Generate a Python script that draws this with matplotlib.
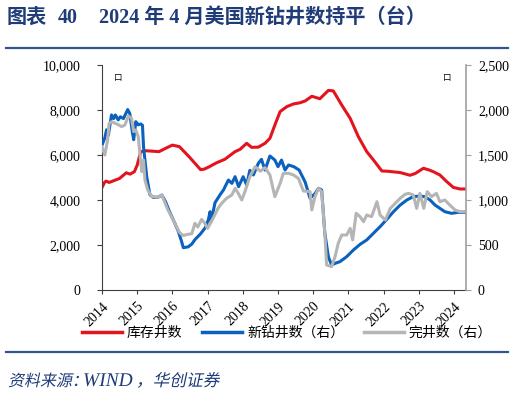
import matplotlib
matplotlib.use("Agg")
import matplotlib.pyplot as plt
import matplotlib.transforms as mtransforms
from matplotlib.font_manager import FontProperties
from matplotlib.lines import Line2D
from matplotlib.patches import PathPatch
from matplotlib.textpath import TextPath

plt.rcParams["font.family"] = ["Liberation Serif", "Noto Sans CJK SC", "DejaVu Sans"]

# 库存井数 (左轴)
duc_x = [2014.0, 2014.08, 2014.12, 2014.2, 2014.32, 2014.5, 2014.69, 2014.8, 2014.92, 2015.0,
         2015.1, 2015.24, 2015.62, 2015.85, 2016.0, 2016.2, 2016.47, 2016.8, 2016.9, 2017.05,
         2017.25, 2017.49, 2017.78, 2017.92, 2018.11, 2018.25, 2018.44, 2018.63, 2018.77, 2018.91,
         2019.06, 2019.25, 2019.44, 2019.62, 2019.77, 2019.96, 2020.19, 2020.43, 2020.57, 2020.81,
         2021.05, 2021.28, 2021.52, 2021.71, 2021.95, 2022.1, 2022.47, 2022.75, 2022.9, 2023.13,
         2023.3, 2023.41, 2023.6, 2023.79, 2023.98, 2024.17, 2024.31]
duc_y = [4560, 4800, 4840, 4780, 4850, 4960, 5210, 5150, 5260, 5550,
         6150, 6190, 6150, 6330, 6440, 6370, 5930, 5350, 5370, 5480,
         5650, 5810, 6150, 6250, 6520, 6340, 6350, 6520, 6740, 7330,
         7930, 8150, 8270, 8320, 8400, 8610, 8500, 8870, 8850, 8220,
         7630, 6820, 6150, 5780, 5290, 5280, 5220, 5100, 5180, 5410,
         5330, 5260, 5110, 4820, 4560, 4490, 4490]

# 新钻井数 (右轴)
drill_x = [2014.0, 2014.08, 2014.13, 2014.18, 2014.27, 2014.33, 2014.38, 2014.46, 2014.52, 2014.61,
           2014.73, 2014.79, 2014.86, 2014.9, 2014.96, 2015.03, 2015.1, 2015.15, 2015.18, 2015.27,
           2015.36, 2015.45, 2015.59, 2015.7, 2015.8, 2015.93, 2016.07, 2016.17, 2016.26, 2016.31,
           2016.45, 2016.55, 2016.64, 2016.79, 2016.93, 2017.02, 2017.07, 2017.1, 2017.21, 2017.35,
           2017.45, 2017.59, 2017.69, 2017.78, 2017.88, 2018.01, 2018.11, 2018.2, 2018.3, 2018.44,
           2018.53, 2018.63, 2018.77, 2018.91, 2019.0, 2019.1, 2019.2, 2019.3, 2019.45, 2019.6,
           2019.77, 2019.91, 2020.05, 2020.15, 2020.24, 2020.33, 2020.43, 2020.52, 2020.62, 2020.76,
           2020.95, 2021.14, 2021.33, 2021.52, 2021.71, 2021.9, 2022.09, 2022.28, 2022.47, 2022.66,
           2022.84, 2023.03, 2023.17, 2023.32, 2023.46, 2023.6, 2023.74, 2023.93, 2024.12, 2024.31]
drill_y = [1610, 1690, 1780, 1720, 1945, 1905, 1945, 1890, 1925, 1905,
           2005, 1960, 1760, 1670, 1870, 1835, 1845, 1830, 1590, 1260,
           1060, 1030, 1030, 1055, 985, 860, 740, 650, 540, 470,
           480, 510, 560, 620, 690, 780, 870, 760, 970, 1056,
           1111, 1222, 1185, 1259, 1148, 1259, 1167, 1330, 1278, 1407,
           1452, 1333, 1489, 1444, 1370, 1444, 1333, 1389, 1370, 1333,
           1200, 1019, 1070, 1130, 1111, 630, 370, 278, 296, 315,
           370, 444, 507, 556, 630, 704, 785, 870, 944, 1000,
           1037, 1044, 1037, 1000, 944, 907, 870, 852, 863, 863]

# 完井数 (右轴)
comp_x = [2014.0, 2014.08, 2014.16, 2014.2, 2014.27, 2014.42, 2014.56, 2014.65, 2014.75, 2014.84,
          2014.9, 2014.96, 2015.03, 2015.08, 2015.13, 2015.18, 2015.22, 2015.3, 2015.41, 2015.59,
          2015.7, 2015.86, 2016.07, 2016.2, 2016.3, 2016.45, 2016.55, 2016.64, 2016.72, 2016.83,
          2016.92, 2017.0, 2017.16, 2017.3, 2017.4, 2017.54, 2017.69, 2017.78, 2017.87, 2017.97,
          2018.06, 2018.2, 2018.35, 2018.5, 2018.63, 2018.77, 2018.91, 2019.06, 2019.15, 2019.3,
          2019.44, 2019.58, 2019.72, 2019.91, 2019.96, 2020.05, 2020.15, 2020.24, 2020.33, 2020.38,
          2020.52, 2020.62, 2020.71, 2020.81, 2020.95, 2021.05, 2021.12, 2021.22, 2021.33, 2021.43,
          2021.52, 2021.66, 2021.81, 2021.9, 2022.05, 2022.19, 2022.33, 2022.47, 2022.61, 2022.71,
          2022.84, 2022.94, 2023.03, 2023.14, 2023.24, 2023.36, 2023.5, 2023.6, 2023.74, 2023.88,
          2024.03, 2024.17, 2024.31]
comp_y = [1590, 1500, 1667, 1850, 1870, 1845, 1815, 1833, 1933, 1907,
          1760, 1778, 1704, 1500, 1315, 1444, 1222, 1111, 1040, 1030,
          1056, 900, 741, 640, 605, 620, 625, 741, 700, 785,
          741, 685, 800, 910, 963, 1019, 1056, 1130, 1074, 1000,
          1093, 1259, 1370, 1320, 1360, 1278, 1037, 1185, 1296, 1296,
          1278, 1240, 1100, 1093, 889, 1037, 1130, 1093, 630, 278,
          259, 370, 518, 611, 611, 685, 556, 852, 815, 759,
          833, 815, 981, 833, 778, 907, 963, 1019, 1063, 1074,
          1056, 907, 1074, 907, 1093, 1037, 1074, 981, 1000, 944,
          889, 870, 870]

years = list(range(2014, 2025))
left_ticks = [0, 2000, 4000, 6000, 8000, 10000]
right_ticks = [0, 500, 1000, 1500, 2000, 2500]
legend_labels = ["库存井数", "新钻井数（右）", "完井数（右）"]

RED = "#E3141E"
BLUE = "#0A62BE"
GRAY = "#B5B5B5"
NAVY = "#1F3C78"

W, H, DPI = 530, 395, 100
fig = plt.figure(figsize=(W / DPI, H / DPI), dpi=DPI)
ax = fig.add_axes([102 / W, 1 - 290 / H, 364 / W, 225 / H])
ax2 = ax.twinx()

ax.plot(duc_x, duc_y, color=RED, lw=2.2)
ax2.plot(drill_x, drill_y, color=BLUE, lw=2.2)
ax2.plot(comp_x, comp_y, color=GRAY, lw=2.2)

ax.set_xlim(2014, 2024.34)
ax.set_ylim(0, 10000)
ax2.set_ylim(0, 2500)
ax.set_xticks(years)
ax.set_xticklabels([str(y) for y in years], rotation=45, fontsize=10,
                   ha="right", va="top", rotation_mode="anchor")
ax.set_yticks(left_ticks)
ax.set_yticklabels([f"{v:,}" for v in left_ticks], fontsize=10)
ax2.set_yticks(right_ticks)
ax2.set_yticklabels([f"{v:,}" for v in right_ticks], fontsize=10)

for a in (ax, ax2):
    a.spines["top"].set_visible(False)
ax.spines["right"].set_visible(False)
ax2.spines["left"].set_visible(False)
ax2.spines["bottom"].set_visible(False)
ax.spines["left"].set_color("#404040")
ax.spines["bottom"].set_color("#404040")
ax2.spines["right"].set_color("#A0A0A0")
ax2.spines["right"].set_linewidth(1.2)
ax.tick_params(axis="x", direction="out", length=3, colors="#404040", labelcolor="black", pad=4)
ax.yaxis.set_tick_params(direction="out", length=3.6, colors="#404040", labelcolor="black", pad=12)
ax2.yaxis.set_tick_params(direction="out", length=3.6, colors="#A0A0A0", labelcolor="black", pad=5)

# 标题
title_parts = [("图表", 7), ("40", 58), ("2024 年 4 月美国新钻井数持平（台）", 99)]
for txt, x0 in title_parts:
    fig.text(x0 / W, 1 - 18 / H, txt, fontsize=14.5, fontweight="bold", color=NAVY,
             va="center", ha="left")
fig.add_artist(Line2D([6 / W, 508 / W], [1 - 48 / H, 1 - 48 / H], color="#2F5597", lw=1.6))
fig.add_artist(Line2D([6 / W, 508 / W], [1 - 352 / H, 1 - 352 / H], color="#2F5597", lw=1.6))

# 资料来源 (斜体)
cjk = FontProperties(family="Noto Sans CJK SC")
latin = FontProperties(family="Liberation Serif", style="italic")
src_parts = [("资料来源：", 8, cjk, 11.5), ("WIND", 83, latin, 14), ("，华创证券", 136, cjk, 12)]
for txt, x0, prop, size in src_parts:
    tp = TextPath((0, 0), txt, size=size * DPI / 72, prop=prop)
    skew = 0 if prop is latin else 12
    tr = mtransforms.Affine2D().skew_deg(skew, 0).translate(x0, H - 386)
    fig.add_artist(PathPatch(tr.transform_path(tp), facecolor=NAVY, edgecolor="none",
                             transform=mtransforms.IdentityTransform()))

# 图例
handles = [Line2D([], [], color=RED, lw=2.5),
           Line2D([], [], color=BLUE, lw=2.5),
           Line2D([], [], color=GRAY, lw=2.5)]
fig.legend(handles, legend_labels, loc="center", bbox_to_anchor=(287 / W, 1 - 333 / H), ncol=3,
           frameon=False, fontsize=10, handlelength=2.9, handletextpad=0.35,
           columnspacing=1.4, borderpad=0, borderaxespad=0)

fig.text(118 / W, 1 - 78 / H, "口", fontsize=6, ha="center", va="center")
fig.text(447 / W, 1 - 78 / H, "口", fontsize=6, ha="center", va="center")

fig.savefig("out.png", dpi=DPI)
